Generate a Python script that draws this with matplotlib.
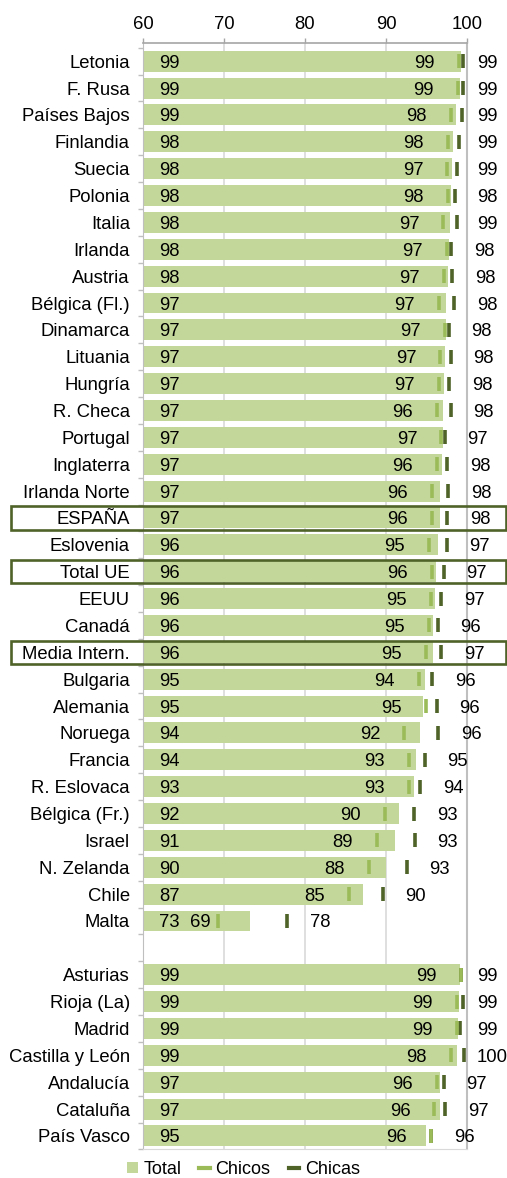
import numpy as np
import matplotlib
matplotlib.use('Agg')
import matplotlib.pyplot as plt
from matplotlib.patches import Rectangle, Patch
from matplotlib.lines import Line2D
import matplotlib.transforms as mtransforms

plt.rcParams['font.family'] = ['Liberation Sans', 'DejaVu Sans']

# paises
paises = ["Letonia", "F. Rusa", "Países Bajos", "Finlandia", "Suecia", "Polonia",
          "Italia", "Irlanda", "Austria", "Bélgica (Fl.)", "Dinamarca", "Lituania",
          "Hungría", "R. Checa", "Portugal", "Inglaterra", "Irlanda Norte", "ESPAÑA",
          "Eslovenia", "Total UE", "EEUU", "Canadá", "Media Intern.", "Bulgaria",
          "Alemania", "Noruega", "Francia", "R. Eslovaca", "Bélgica (Fr.)", "Israel",
          "N. Zelanda", "Chile", "Malta"]
total_p = [99.22, 99.10, 98.70, 98.30, 98.10, 98.05, 97.90, 97.78, 97.60, 97.45, 97.40,
           97.28, 97.20, 97.08, 97.00, 96.87, 96.67, 96.63, 96.38, 96.17, 96.10, 95.77,
           95.77, 94.78, 94.57, 94.24, 93.74, 93.46, 91.60, 91.07, 90.00, 87.20, 73.17]
chicos_p = [99.00, 98.85, 98.00, 97.65, 97.57, 97.65, 97.08, 97.53, 97.16, 96.54, 97.28,
            96.70, 96.54, 96.26, 96.80, 96.26, 95.64, 95.64, 95.31, 95.64, 95.56, 95.31,
            94.94, 94.07, 94.90, 92.22, 92.84, 92.84, 89.84, 88.85, 87.86, 85.43, 69.22]
chicas_p = [99.50, 99.50, 99.40, 98.97, 98.77, 98.48, 98.77, 98.06, 98.19, 98.43, 97.74,
            97.99, 97.78, 98.02, 97.28, 97.57, 97.70, 97.57, 97.49, 97.16, 96.83, 96.38,
            96.79, 95.68, 96.26, 96.46, 94.78, 94.20, 93.50, 93.54, 92.59, 89.59, 77.80]
lab_total_p = [99, 99, 99, 98, 98, 98, 98, 98, 98, 97, 97, 97, 97, 97, 97, 97, 97, 97,
               96, 96, 96, 96, 96, 95, 95, 94, 94, 93, 92, 91, 90, 87, 73]
lab_chicos_p = [99, 99, 98, 98, 97, 98, 97, 97, 97, 97, 97, 97, 97, 96, 97, 96, 96, 96,
                95, 96, 95, 95, 95, 94, 95, 92, 93, 93, 90, 89, 88, 85, 69]
lab_chicas_p = [99, 99, 99, 99, 99, 98, 99, 98, 98, 98, 98, 98, 98, 98, 97, 98, 98, 98,
                97, 97, 97, 96, 97, 96, 96, 96, 95, 94, 93, 93, 93, 90, 78]

# comunidades
regiones = ["Asturias", "Rioja (La)", "Madrid", "Castilla y León", "Andalucía",
            "Cataluña", "País Vasco"]
total_r = [99.14, 99.05, 98.93, 98.80, 96.67, 96.63, 94.90]
chicos_r = [99.22, 98.73, 98.73, 98.02, 96.30, 95.97, 95.56]
chicas_r = [99.22, 99.47, 99.14, 99.63, 97.12, 97.33, 95.56]
lab_total_r = [99, 99, 99, 99, 97, 97, 95]
lab_chicos_r = [99, 99, 99, 98, 96, 96, 96]
lab_chicas_r = [99, 99, 99, 100, 97, 97, 96]

destacados = ["ESPAÑA", "Total UE", "Media Intern."]

c_total = '#c4d79b'
c_chicos = '#9bbb59'
c_chicas = '#4f6228'

nombres = paises + regiones
total = total_p + total_r
chicos = chicos_p + chicos_r
chicas = chicas_p + chicas_r
lt = lab_total_p + lab_total_r
lo = lab_chicos_p + lab_chicos_r
la = lab_chicas_p + lab_chicas_r
y = np.concatenate([np.arange(len(paises)), np.arange(len(regiones)) + len(paises) + 1])

fig = plt.figure(figsize=(5.07, 11.78), dpi=100)
ax = fig.add_axes([0.282, 0.0243, 0.639, 0.9395])

ax.barh(y, np.array(total) - 60, left=60, height=0.78, color=c_total, zorder=2)
ax.plot(chicas, y, ls='none', marker='|', ms=10, mew=2.6, color=c_chicas, zorder=3)
ax.plot(chicos, y, ls='none', marker='|', ms=10, mew=2.6, color=c_chicos, zorder=4)

fs = 13.3
for yi, t, o, a, l1, l2, l3 in zip(y, total, chicos, chicas, lt, lo, la):
    ax.text(62.0, yi, str(l1), ha='left', va='center_baseline', fontsize=fs, zorder=5)
    ax.text(max(o - 2.95, 68.4), yi, str(l2), ha='right', va='center_baseline',
            fontsize=fs, zorder=5)
    ax.text(min(a + 2.8, 101.2), yi, str(l3), ha='left', va='center_baseline',
            fontsize=fs, zorder=5, clip_on=False)

ax.set_xlim(60, 100)
ax.set_ylim(40.46, -0.69)
ax.xaxis.tick_top()
ax.set_xticks([60, 70, 80, 90, 100])
ax.tick_params(axis='x', length=3.6, width=1, color='#a6a6a6', pad=3.5, labelsize=fs)
ax.set_yticks(y)
ax.set_yticklabels(nombres)
ax.tick_params(axis='y', which='major', length=0, pad=9.5, labelsize=fs)
ax.set_yticks(np.arange(-0.5, 41, 1), minor=True)
ax.tick_params(axis='y', which='minor', length=3.6, width=1, color='#bfbfbf')

for xv in [70, 80, 90]:
    ax.axvline(xv, color='#d9d9d9', lw=1.2, zorder=1)
ax.spines['top'].set_color('#a6a6a6')
ax.spines['top'].set_linewidth(1.2)
ax.spines['left'].set_color('#bfbfbf')
ax.spines['bottom'].set_color('#d9d9d9')
ax.spines['right'].set_color('#bfbfbf')
ax.spines['right'].set_linewidth(1.5)

# recuadros
trans = mtransforms.blended_transform_factory(fig.transFigure, ax.transData)
for nombre in destacados:
    yi = y[nombres.index(nombre)]
    r = Rectangle((0.0217, yi - 0.43), 0.976, 0.86, transform=trans, fill=False,
                  edgecolor=c_chicas, lw=1.9, clip_on=False, zorder=6)
    ax.add_patch(r)

handles = [Patch(facecolor=c_total, edgecolor='none'),
           Line2D([], [], color=c_chicos, lw=3),
           Line2D([], [], color=c_chicas, lw=3)]
fig.legend(handles, ['Total', 'Chicos', 'Chicas'], loc='center', ncol=3,
           bbox_to_anchor=(0.48, 0.0075), frameon=False, fontsize=13,
           handlelength=0.6, handleheight=0.55, handletextpad=0.3, columnspacing=1.0,
           borderpad=0.1)

fig.savefig('out.png', dpi=100)
